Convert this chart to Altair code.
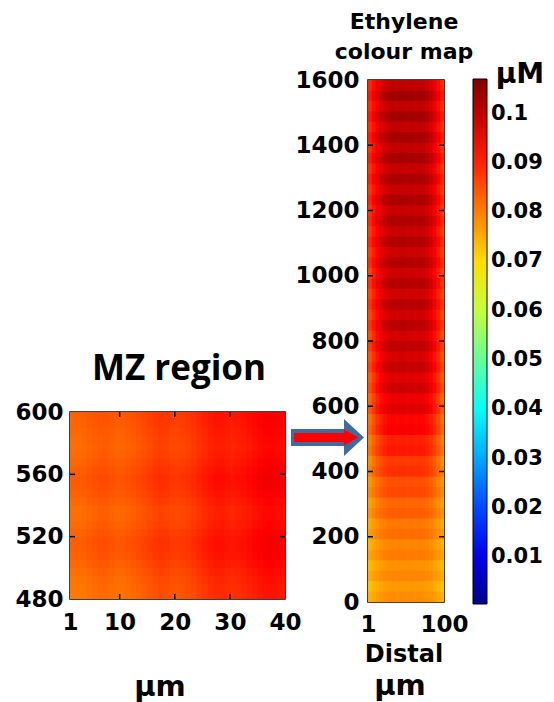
import altair as alt
import pandas as pd

FONT = "DejaVu Sans"

# ---------------- colour map (jet) ----------------
jet_domain = [0.0005, 0.0123, 0.0394, 0.0664, 0.0935, 0.107]
jet_colors = ["#00008F", "#0000FF", "#00FFFF", "#FFFF00", "#FF0000", "#800000"]
bar_ticks = [0.01, 0.02, 0.03, 0.04, 0.05, 0.06, 0.07, 0.08, 0.09, 0.1]

# ---------------- left map (MZ region) ----------------
left_x_edges = list(range(1, 41, 1))          # 1..40 um
left_y_edges = list(range(480, 601, 5))       # 480..600 um
# concentration (uM) across x (between-blob level)
left_col = [0.0820, 0.0821, 0.0824, 0.0829, 0.0834, 0.0838, 0.0838, 0.0834, 0.0829,
            0.0830, 0.0834, 0.0838, 0.0844, 0.0851, 0.0858, 0.0865, 0.0869, 0.0867,
            0.0861, 0.0860, 0.0863, 0.0868, 0.0875, 0.0884, 0.0892, 0.0900, 0.0906,
            0.0907, 0.0902, 0.0899, 0.0902, 0.0907, 0.0913, 0.0920, 0.0926, 0.0931,
            0.0932, 0.0928, 0.0925]
# change along y (rows, bottom to top)
left_row = [-0.0016, -0.0014, -0.0010, -0.0004, 0.0003, 0.0010, 0.0014, 0.0014,
            0.0008, 0.0001, -0.0003, -0.0003, 0.0003, 0.0011, 0.0016, 0.0018,
            0.0014, 0.0007, 0.0001, -0.0002, 0.0000, 0.0004, 0.0008, 0.0011]
left_x_ticks = [1, 10, 20, 30, 40]
left_y_ticks = [480, 520, 560, 600]
left_inner_x = [10, 20, 30]
left_inner_y = [520, 560]

# ---------------- right map (whole root) ----------------
right_x_edges = [1 + i * 99 / 20 for i in range(21)]   # 1..100 um
right_y_edges = list(range(0, 1601, 32))               # 0..1600 um
right_center = [0.0786, 0.0773, 0.0793, 0.0782, 0.0805, 0.0794, 0.0819, 0.0809, 0.0837, 0.0828,
                0.0860, 0.0852, 0.0886, 0.0877, 0.0912, 0.0904, 0.0942, 0.0933, 0.0969, 0.0955,
                0.0988, 0.0970, 0.0998, 0.0977, 0.1004, 0.0982, 0.1009, 0.0985, 0.1012, 0.0987,
                0.1014, 0.0989, 0.1017, 0.0990, 0.1019, 0.0992, 0.1021, 0.0994, 0.1024, 0.0995,
                0.1026, 0.0997, 0.1028, 0.0999, 0.1031, 0.1000, 0.1033, 0.1002, 0.1035, 0.1004]
right_edge = [0.0746, 0.0729, 0.0753, 0.0737, 0.0761, 0.0746, 0.0769, 0.0754, 0.0778, 0.0763,
              0.0788, 0.0773, 0.0798, 0.0785, 0.0812, 0.0799, 0.0827, 0.0815, 0.0843, 0.0829,
              0.0854, 0.0839, 0.0863, 0.0847, 0.0871, 0.0853, 0.0875, 0.0857, 0.0879, 0.0861,
              0.0883, 0.0865, 0.0887, 0.0869, 0.0890, 0.0872, 0.0893, 0.0875, 0.0896, 0.0878,
              0.0899, 0.0880, 0.0902, 0.0883, 0.0904, 0.0885, 0.0907, 0.0888, 0.0909, 0.0890]
right_col_weight = [0.0, 0.3, 0.55, 0.75, 0.88, 0.97, 1.0, 0.96, 1.0, 1.0,
                    0.97, 1.0, 0.96, 1.0, 0.97, 0.88, 0.75, 0.55, 0.3, 0.0]
right_x_ticks = [1, 100]
right_y_ticks = [0, 200, 400, 600, 800, 1000, 1200, 1400, 1600]
right_inner_y = [200, 400, 600, 800, 1000, 1200, 1400]

# small overlap of neighbouring cells (in data units, about one pixel) so no seams show
LEFT_OVER_X, LEFT_OVER_Y = 0.2, 0.7
RIGHT_OVER_X, RIGHT_OVER_Y = 1.3, 3.0

# ---------------- tables ----------------
rows = []
for i, rv in enumerate(left_row):
    for j, cv in enumerate(left_col):
        rows.append({"x0": left_x_edges[j], "x1": left_x_edges[j + 1] + LEFT_OVER_X,
                     "y0": left_y_edges[i], "y1": left_y_edges[i + 1] + LEFT_OVER_Y,
                     "v": cv + rv})
df_left = pd.DataFrame(rows)

rows = []
for i in range(len(right_center)):
    for j, w in enumerate(right_col_weight):
        v = right_edge[i] + (right_center[i] - right_edge[i]) * w
        rows.append({"x0": right_x_edges[j], "x1": right_x_edges[j + 1] + RIGHT_OVER_X,
                     "y0": right_y_edges[i], "y1": right_y_edges[i + 1] + RIGHT_OVER_Y,
                     "v": v})
df_right = pd.DataFrame(rows)

one = pd.DataFrame({"k": [0]})

color_scale = alt.Scale(domain=jet_domain, range=jet_colors, interpolate="rgb", clamp=True)
legend = alt.Legend(orient="none", legendX=403, legendY=-1, direction="vertical",
                    type="gradient",
                    gradientLength=525, gradientThickness=14,
                    gradientStrokeColor="black", gradientStrokeWidth=1,
                    values=bar_ticks, format=".2~f", title=None,
                    labelFont=FONT, labelFontSize=21, labelFontWeight="bold",
                    labelColor="black", labelOffset=4, labelOverlap=False)

def axis(values, pad, flush=False):
    return alt.Axis(values=values, title=None, grid=False, ticks=False, domain=False,
                    format="d",
                    labelFont=FONT, labelFontSize=23, labelFontWeight="bold",
                    labelColor="black", labelPadding=pad, labelFlush=flush,
                    labelOverlap=False, labelBound=False)

def txt(s, x, y, size, font=FONT, color="black"):
    return alt.Chart(one).mark_text(text=s, font=font, fontSize=size, fontWeight="bold",
                                    color=color, align="center", baseline="alphabetic",
                                    lineHeight=30).encode(x=alt.value(x), y=alt.value(y))

def xticks(vals, y0, y1):
    return alt.Chart(pd.DataFrame({"t": vals})).mark_rule(
        color="black", strokeWidth=1.5).encode(x="t:Q", y=alt.value(y0), y2=alt.value(y1))

def yticks(vals, x0, x1):
    return alt.Chart(pd.DataFrame({"t": vals})).mark_rule(
        color="black", strokeWidth=1.5).encode(y="t:Q", x=alt.value(x0), x2=alt.value(x1))

# ---------------- left chart ----------------
left_heat = alt.Chart(df_left).mark_rect(clip=True).encode(
    x=alt.X("x0:Q", scale=alt.Scale(domain=[1, 40], nice=False, zero=False),
            axis=axis(left_x_ticks, 12)),
    x2="x1:Q",
    y=alt.Y("y0:Q", scale=alt.Scale(domain=[480, 600], nice=False, zero=False),
            axis=axis(left_y_ticks, 7)),
    y2="y1:Q",
    color=alt.Color("v:Q", scale=color_scale, legend=legend),
)

arrow_blue = "#416B9E"
shaft = alt.Chart(one).mark_rect(color=arrow_blue).encode(
    x=alt.value(221), x2=alt.value(277), y=alt.value(17), y2=alt.value(34))
head = alt.Chart(one).mark_point(shape="M -0.54 -1 L 0.54 0 L -0.54 1 Z", size=1369,
                                 filled=True, color=arrow_blue, opacity=1).encode(
    x=alt.value(284), y=alt.value(25.5))
red_bar = alt.Chart(one).mark_rect(color="#FF0000").encode(
    x=alt.value(224), x2=alt.value(276), y=alt.value(21), y2=alt.value(30))
red_tip = alt.Chart(one).mark_point(shape="M -0.875 -1 L 0.875 0 L -0.875 1 Z", size=256,
                                    filled=True, color="#FF0000", opacity=1).encode(
    x=alt.value(281), y=alt.value(25.5))

left_layer = alt.layer(
    left_heat,
    xticks(left_inner_x, 0, 5), xticks(left_inner_x, 182, 187),
    yticks(left_inner_y, 0, 5), yticks(left_inner_y, 210, 215),
    shaft, head, red_bar, red_tip,
    txt("µm", 90, 284, 29),
).properties(width=215, height=187)

spacer = txt("MZ region", 109, 300, 35, font="Open Sans").properties(
    width=215, height=332, view=alt.ViewBackground(stroke="transparent"))

left_col_chart = alt.vconcat(spacer, left_layer, spacing=0, bounds="flush")

# ---------------- right chart ----------------
right_heat = alt.Chart(df_right).mark_rect(clip=True).encode(
    x=alt.X("x0:Q", scale=alt.Scale(domain=[1, 100], nice=False, zero=False),
            axis=axis(right_x_ticks, 11)),
    x2="x1:Q",
    y=alt.Y("y0:Q", scale=alt.Scale(domain=[0, 1600], nice=False, zero=False),
            axis=axis(right_y_ticks, 9)),
    y2="y1:Q",
    color=alt.Color("v:Q", scale=color_scale, legend=legend),
)

right_layer = alt.layer(
    right_heat,
    yticks(right_inner_y, 0, 5), yticks(right_inner_y, 71, 76),
    txt(["Ethylene", "colour map"], 36, -51, 22),
    txt("µM", 152, 3, 28),
    txt("Distal", 36, 582, 24),
    txt("µm", 32, 615, 29),
).properties(width=76, height=522)

chart = alt.hconcat(left_col_chart, right_layer, spacing=298, bounds="flush").resolve_scale(
    color="shared"
).properties(
    padding={"left": 14, "top": 10, "right": 0, "bottom": 0},
    background="white",
).configure_view(stroke="black", strokeWidth=1.5)

chart.save("out.html", embed_options={"renderer": "svg", "actions": False})
